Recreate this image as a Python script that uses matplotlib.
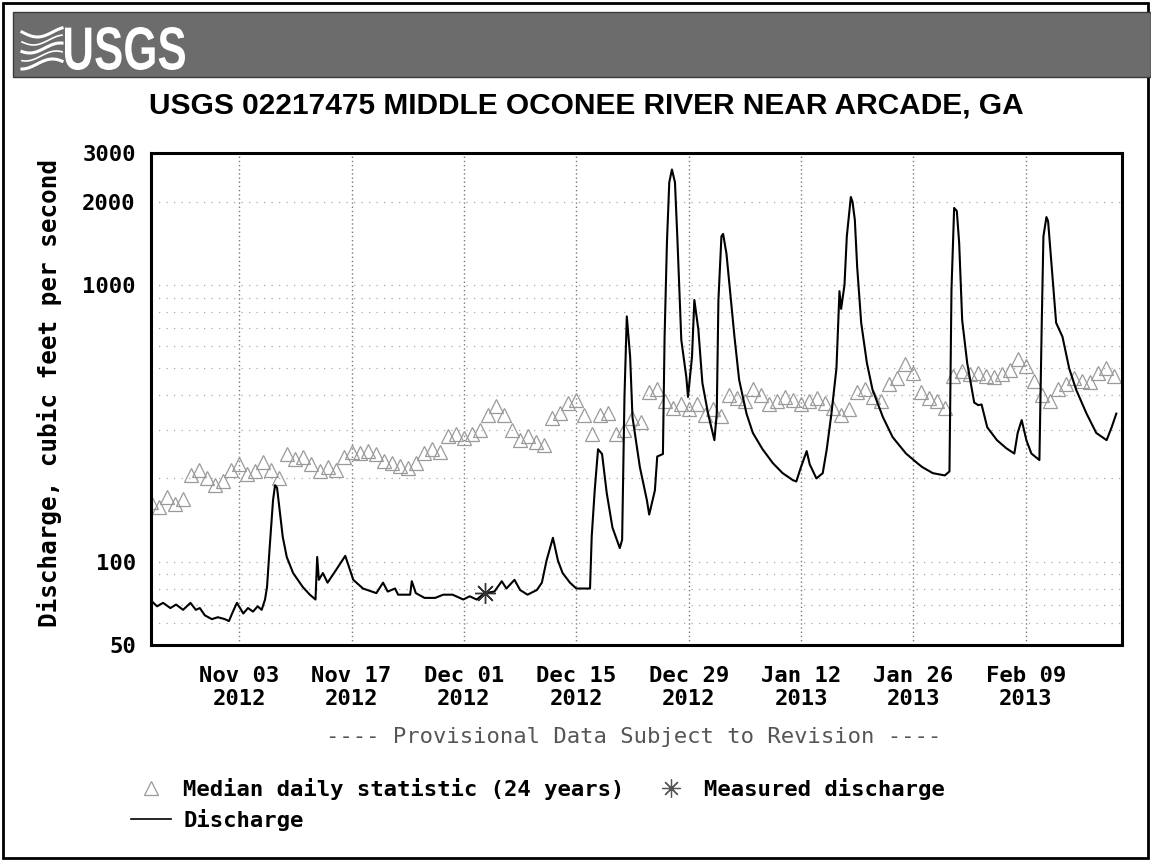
import numpy as np
import pandas as pd
import matplotlib
matplotlib.use("Agg")
import matplotlib.pyplot as plt
from matplotlib.lines import Line2D
from matplotlib.patches import Rectangle, PathPatch
from matplotlib.textpath import TextPath
from matplotlib.font_manager import FontProperties
from matplotlib.transforms import Affine2D, IdentityTransform

# ---- data ----
site_title = "USGS 02217475 MIDDLE OCONEE RIVER NEAR ARCADE, GA"

dis_time = [
    "2012-10-23 02", "2012-10-23 18", "2012-10-24 12", "2012-10-25 10", "2012-10-26 03",
    "2012-10-27 00", "2012-10-27 22", "2012-10-28 14", "2012-10-29 02", "2012-10-29 17",
    "2012-10-30 14", "2012-10-31 08", "2012-11-01 05", "2012-11-01 17", "2012-11-02 05",
    "2012-11-02 17", "2012-11-03 12", "2012-11-04 02", "2012-11-04 17", "2012-11-05 07",
    "2012-11-05 19", "2012-11-06 05", "2012-11-06 11", "2012-11-06 19", "2012-11-07 05",
    "2012-11-07 11", "2012-11-07 17", "2012-11-08 02", "2012-11-08 10", "2012-11-08 22",
    "2012-11-09 17", "2012-11-10 22", "2012-11-11 19", "2012-11-12 12", "2012-11-12 17",
    "2012-11-12 22", "2012-11-13 10", "2012-11-14 00", "2012-11-14 22", "2012-11-16 05",
    "2012-11-17 05", "2012-11-18 10", "2012-11-20 02", "2012-11-20 22", "2012-11-21 12",
    "2012-11-22 10", "2012-11-22 19", "2012-11-24 07", "2012-11-24 12", "2012-11-25 00",
    "2012-11-26 02", "2012-11-27 10", "2012-11-28 10", "2012-11-29 14", "2012-11-30 22",
    "2012-12-01 17", "2012-12-02 14", "2012-12-03 14", "2012-12-04 19", "2012-12-05 17",
    "2012-12-06 07", "2012-12-07 07", "2012-12-08 00", "2012-12-08 22", "2012-12-10 02",
    "2012-12-10 17", "2012-12-11 07", "2012-12-12 02", "2012-12-12 17", "2012-12-13 07",
    "2012-12-14 05", "2012-12-15 00", "2012-12-16 17", "2012-12-16 22", "2012-12-17 07",
    "2012-12-17 17", "2012-12-18 05", "2012-12-18 19", "2012-12-19 12", "2012-12-20 10",
    "2012-12-20 17", "2012-12-21 00", "2012-12-21 07", "2012-12-21 17", "2012-12-22 00",
    "2012-12-22 22", "2012-12-23 19", "2012-12-24 02", "2012-12-24 19", "2012-12-25 02",
    "2012-12-25 19", "2012-12-26 00", "2012-12-26 07", "2012-12-26 14", "2012-12-26 22",
    "2012-12-27 07", "2012-12-27 14", "2012-12-28 02", "2012-12-28 17", "2012-12-28 22",
    "2012-12-29 10", "2012-12-29 17", "2012-12-30 05", "2012-12-30 17", "2012-12-31 10",
    "2013-01-01 05", "2013-01-01 12", "2013-01-01 17", "2013-01-02 02", "2013-01-02 07",
    "2013-01-02 17", "2013-01-03 02", "2013-01-03 17", "2013-01-04 07", "2013-01-05 05",
    "2013-01-06 00", "2013-01-07 05", "2013-01-08 12", "2013-01-09 17", "2013-01-11 00",
    "2013-01-11 10", "2013-01-12 00", "2013-01-12 17", "2013-01-13 02", "2013-01-13 22",
    "2013-01-14 17", "2013-01-15 05", "2013-01-15 19", "2013-01-16 10", "2013-01-16 19",
    "2013-01-17 00", "2013-01-17 10", "2013-01-17 17", "2013-01-18 05", "2013-01-18 10",
    "2013-01-18 17", "2013-01-19 00", "2013-01-19 12", "2013-01-20 05", "2013-01-20 22",
    "2013-01-22 05", "2013-01-23 10", "2013-01-25 02", "2013-01-26 12", "2013-01-27 02",
    "2013-01-28 10", "2013-01-29 22", "2013-01-30 12", "2013-01-30 18", "2013-01-31 02",
    "2013-01-31 10", "2013-01-31 17", "2013-02-01 02", "2013-02-01 17", "2013-02-02 14",
    "2013-02-03 02", "2013-02-03 12", "2013-02-04 05", "2013-02-05 10", "2013-02-06 14",
    "2013-02-07 14", "2013-02-08 00", "2013-02-08 12", "2013-02-09 02", "2013-02-09 17",
    "2013-02-10 17", "2013-02-11 00", "2013-02-11 05", "2013-02-11 14", "2013-02-11 19",
    "2013-02-12 05", "2013-02-12 19", "2013-02-13 14", "2013-02-14 10", "2013-02-15 07",
    "2013-02-16 14", "2013-02-17 19", "2013-02-19 02", "2013-02-19 17", "2013-02-20 07",
]
dis_cfs = [
    72, 69, 71, 68, 70, 67, 71, 67, 68, 64,
    62, 63, 62, 61, 66, 71, 65, 68, 66, 69,
    67, 73, 81, 113, 167, 189, 185, 149, 123, 104,
    91, 81, 76, 73, 104, 86, 91, 84, 92, 105,
    86, 80, 77, 84, 78, 80, 76, 76, 85, 77,
    74, 74, 76, 76, 73, 75, 73, 77, 78, 85,
    80, 86, 79, 76, 79, 84, 101, 122, 101, 91,
    84, 80, 80, 123, 181, 255, 245, 177, 133, 112,
    120, 394, 770, 550, 333, 220, 167, 148, 181, 240,
    245, 650, 1420, 2350, 2615, 2350, 1500, 633, 465, 394,
    550, 883, 690, 443, 343, 275, 343, 883, 1500, 1530,
    1300, 1000, 650, 454, 343, 292, 255, 227, 209, 197,
    195, 220, 251, 225, 200, 209, 255, 343, 500, 950,
    820, 1000, 1500, 2080, 2000, 1718, 1160, 730, 523, 418,
    333, 282, 246, 227, 220, 209, 205, 212, 960, 1900,
    1850, 1420, 747, 523, 376, 368, 370, 306, 275, 257,
    246, 292, 325, 275, 246, 233, 730, 1500, 1760, 1700,
    1200, 730, 650, 500, 418, 343, 292, 275, 306, 343,
]

# median daily statistic, one value per day starting 2012-10-23
median_start = "2012-10-23"
median_cfs = [
    165, 158, 172, 162, 168, 205, 215, 200, 190, 195,
    215, 225, 208, 212, 230, 215, 200, 245, 235, 240,
    225, 212, 220, 215, 240, 250, 248, 252, 245, 232,
    228, 222, 218, 228, 248, 255, 250, 285, 290, 280,
    290, 300, 340, 365, 340, 300, 275, 285, 270, 265,
    330, 345, 375, 385, 340, 290, 340, 345, 290, 300,
    330, 320, 410, 420, 380, 360, 370, 355, 370, 340,
    355, 335, 400, 390, 380, 420, 400, 370, 380, 395,
    385, 370, 380, 390, 375, 360, 340, 355, 410, 420,
    395, 380, 440, 460, 520, 480, 410, 390, 380, 360,
    470, 490, 475, 480, 470, 465, 475, 495, 540, 510,
    450, 400, 380, 420, 440, 460, 450, 445, 480, 500,
    470,
]

meas_time = ["2012-12-03 14"]
meas_cfs = [77]

x_start, x_end = "2012-10-23", "2013-02-21"
tick_dates = ["2012-11-03", "2012-11-17", "2012-12-01", "2012-12-15",
              "2012-12-29", "2013-01-12", "2013-01-26", "2013-02-09"]
y_ticks = [50, 100, 1000, 2000, 3000]
y_minor = [60, 70, 80, 90, 200, 300, 400, 500, 600, 700, 800, 900, 2000]

dis_t = pd.to_datetime(dis_time, format="%Y-%m-%d %H")
med_t = pd.date_range(median_start, periods=len(median_cfs), freq="D")
meas_t = pd.to_datetime(meas_time, format="%Y-%m-%d %H")

mono = ["DejaVu Sans Mono"]
fs = 16

fig = plt.figure(figsize=(11.51, 8.61), dpi=100)
W, H = 1151.0, 861.0

# outer frame and header band
fig.add_artist(Rectangle((3 / W, 3 / H), 1145 / W, 855 / H, transform=fig.transFigure,
                         fill=False, ec="black", lw=2))
fig.add_artist(Rectangle((13 / W, 1 - 77 / H), (W - 13) / W, 65 / H,
                         transform=fig.transFigure, fc="#6c6c6c", ec="#3a3a3a", lw=1))
# logo waves
wx = np.linspace(22, 62, 30)
for k, off in enumerate([32, 40, 48, 56, 64]):
    wy = off + 5 * np.sin((wx - 22) / 40 * np.pi * 1.3 + k * 0.4)
    fig.add_artist(Line2D(wx / W, 1 - wy / H, transform=fig.transFigure,
                          color="white", lw=2.2 if k % 2 == 0 else 1.2))
# condensed "USGS" lettering, squeezed to the logo box
tp = TextPath((0, 0), "USGS", size=1,
              prop=FontProperties(family="Liberation Sans", weight="bold"))
bb = tp.get_extents()
logo_tr = (Affine2D().translate(-bb.x0, -bb.y0)
           .scale(120 / bb.width, 43 / bb.height).translate(65, H - 70))
fig.add_artist(PathPatch(logo_tr.transform_path(tp), transform=IdentityTransform(),
                         fc="white", ec="none"))

fig.text(586 / W, 1 - 105 / H, site_title, fontsize=21.5, fontweight="bold",
         family=["Liberation Sans", "DejaVu Sans"], ha="center", va="center")

ax = fig.add_axes([151 / W, 1 - 645 / H, (1122 - 151) / W, (645 - 153) / H])

ax.plot(med_t, median_cfs, linestyle="none", marker="^", markersize=10,
        markerfacecolor="none", markeredgecolor="#9a9a9a", markeredgewidth=0.9,
        label="Median daily statistic (24 years)", zorder=2)
ax.plot(dis_t, dis_cfs, color="black", lw=1.5, label="Discharge", zorder=3)
ax.plot(meas_t, meas_cfs, linestyle="none", marker=(8, 2, 0), markersize=15,
        color="#333333", markeredgewidth=1.0, label="Measured discharge", zorder=4)

ax.set_yscale("log")
ax.set_ylim(50, 3000)
ax.set_xlim(pd.Timestamp(x_start), pd.Timestamp(x_end))

ax.set_yticks(y_ticks)
ax.set_yticklabels([str(v) for v in y_ticks])
ax.set_yticks(y_minor, minor=True)
ax.yaxis.set_minor_formatter(matplotlib.ticker.NullFormatter())

ticks = pd.to_datetime(tick_dates)
ax.set_xticks(ticks)
ax.set_xticklabels([t.strftime("%b %d\n%Y") for t in ticks])

ax.tick_params(axis="both", which="both", length=0)
ax.tick_params(axis="y", pad=11)
ax.tick_params(axis="x", pad=15)
for lab in ax.get_xticklabels() + ax.get_yticklabels():
    lab.set_fontfamily(mono)
    lab.set_fontweight("bold")
    lab.set_fontsize(fs)

ax.grid(axis="x", which="major", color="#7a7a7a", ls=(0, (1, 2)), lw=1.0)
ax.grid(axis="y", which="both", color="#a8a8a8", ls=(0, (1, 5)), lw=0.9)
ax.set_axisbelow(True)
for s in ax.spines.values():
    s.set_linewidth(2.2)

fig.text(50 / W, 1 - 393 / H, "Discharge, cubic feet per second", rotation=90,
         family=mono, fontweight="bold", fontsize=17.5, ha="center", va="center")

fig.text(634 / W, 1 - 737 / H, "---- Provisional Data Subject to Revision ----",
         family=mono, fontsize=fs, color="#555555", ha="center", va="center")

h_med = Line2D([], [], linestyle="none", marker="^", markersize=10,
               markerfacecolor="none", markeredgecolor="#9a9a9a", markeredgewidth=0.9)
h_dis = Line2D([], [], color="black", lw=1.2)
h_meas = Line2D([], [], linestyle="none", marker=(8, 2, 0), markersize=13,
                color="#555555", markeredgewidth=0.9)
fig.legend([h_med, h_dis, h_meas],
           ["Median daily statistic (24 years)", "Discharge", "Measured discharge"],
           ncol=2, loc="upper left", bbox_to_anchor=(120 / W, 1 - 767 / H),
           frameon=False, borderpad=0, handlelength=1.8, handletextpad=0.55,
           columnspacing=1.2, labelspacing=0.4,
           prop={"family": mono, "weight": "bold", "size": fs})

fig.savefig("out.png", dpi=100)
